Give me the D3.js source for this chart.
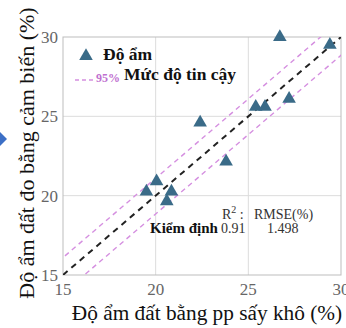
<!DOCTYPE html>
<html>
<head>
<meta charset="utf-8">
<script src="https://cdn.jsdelivr.net/npm/d3@7/dist/d3.min.js"></script>
<style>
  html, body { margin: 0; padding: 0; background: #fff; }
  svg { display: block; }
  svg text { font-family: "Liberation Serif", "DejaVu Serif", serif; }
</style>
</head>
<body>
<svg id="chart" width="346" height="328"></svg>
<script>
// Oven-dry reference moisture (%) vs. sensor reading (%)
const dryMethod = [26.7, 29.4, 27.2, 25.4, 25.9, 22.4, 23.8, 20.05, 19.5, 20.85, 20.6];
const sensorReading = [30.0, 29.5, 26.1, 25.6, 25.6, 24.6, 22.15, 20.9, 20.25, 20.25, 19.65];
const xTicks = [15, 20, 25, 30];
const yTicks = [15, 20, 25, 30];
const bandLimits = [1.1, -1.15];       // 95% confidence band offsets
const statHeaders = ["R", "RMSE(%)"];
const statValues = ["0.91", "1.498"];

const svg = d3.select("#chart");

const x = d3.scaleLinear().domain([15, 30]).range([63, 341]);
const y = d3.scaleLinear().domain([15, 30]).range([275, 37]);

// grid
svg.append("g").selectAll("line")
  .data(xTicks.slice(1, -1)).join("line")
  .attr("x1", d => x(d)).attr("x2", d => x(d))
  .attr("y1", y(15)).attr("y2", y(30))
  .attr("stroke", "#dcdcdc").attr("stroke-width", 1);
svg.append("g").selectAll("line")
  .data(yTicks.slice(1, -1)).join("line")
  .attr("y1", d => y(d)).attr("y2", d => y(d))
  .attr("x1", x(15)).attr("x2", x(30))
  .attr("stroke", "#dcdcdc").attr("stroke-width", 1);

// frame
svg.append("rect")
  .attr("x", x(15)).attr("y", y(30))
  .attr("width", x(30) - x(15)).attr("height", y(15) - y(30))
  .attr("fill", "none").attr("stroke", "#bdbdbd").attr("stroke-width", 1);

// clip for lines
svg.append("clipPath").attr("id", "plotClip").append("rect")
  .attr("x", x(15)).attr("y", y(30))
  .attr("width", x(30) - x(15)).attr("height", y(15) - y(30));

const lineGen = d3.line().x(d => x(d[0])).y(d => y(d[1]));
const lines = svg.append("g").attr("clip-path", "url(#plotClip)");
bandLimits.forEach(off => {
  lines.append("path")
    .attr("d", lineGen([[14, 14 + off], [31, 31 + off]]))
    .attr("fill", "none").attr("stroke", "#d58fe0")
    .attr("stroke-width", 1.4).attr("stroke-dasharray", "5,4");
});
lines.append("path")
  .attr("d", lineGen([[15, 15], [30, 30]]))
  .attr("fill", "none").attr("stroke", "#222")
  .attr("stroke-width", 2).attr("stroke-dasharray", "6,5");

// points
const tri = d3.symbol().type(d3.symbolTriangle).size(80);
svg.append("g").selectAll("path")
  .data(dryMethod.map((d, i) => [d, sensorReading[i]]))
  .join("path")
  .attr("d", tri)
  .attr("transform", d => `translate(${x(d[0])},${y(d[1])})`)
  .attr("fill", "#3a6b88");

// tick labels
svg.append("g").selectAll("text")
  .data(xTicks).join("text")
  .attr("x", d => x(d)).attr("y", 295)
  .attr("text-anchor", "middle")
  .attr("font-size", 17).attr("fill", "#666")
  .text(d => d);
svg.append("g").selectAll("text")
  .data(yTicks).join("text")
  .attr("x", 58).attr("y", d => y(d) + 6)
  .attr("text-anchor", "end")
  .attr("font-size", 17).attr("fill", "#666")
  .text(d => d);

// axis titles
svg.append("text")
  .attr("x", 207).attr("y", 320)
  .attr("text-anchor", "middle")
  .attr("font-size", 21.3).attr("fill", "#111")
  .text("Độ ẩm đất bằng pp sấy khô (%)");
svg.append("text")
  .attr("transform", "translate(34,153) rotate(-90)")
  .attr("text-anchor", "middle")
  .attr("font-size", 22).attr("fill", "#111")
  .text("Độ ẩm đất đo bằng cảm biến (%)");

// legend
svg.append("path").attr("d", tri)
  .attr("transform", "translate(86,56)").attr("fill", "#3a6b88");
svg.append("text").attr("x", 103).attr("y", 60)
  .attr("font-size", 17.5).attr("font-weight", "bold")
  .attr("fill", "#111").text("Độ ẩm");
svg.append("line").attr("x1", 75).attr("x2", 96).attr("y1", 80).attr("y2", 80)
  .attr("stroke", "#d58fe0").attr("stroke-width", 1.4).attr("stroke-dasharray", "4,3");
svg.append("text").attr("x", 96).attr("y", 82)
  .attr("font-size", 12).attr("font-weight", "bold")
  .attr("fill", "#c070d0").text("95%");
svg.append("text").attr("x", 124).attr("y", 80)
  .attr("font-size", 17.5).attr("font-weight", "bold")
  .attr("fill", "#111").text("Mức độ tin cậy");

// statistics annotation
const stat = svg.append("g").attr("fill", "#333");
const r2 = stat.append("text").attr("x", 222).attr("y", 219).attr("font-size", 14);
r2.append("tspan").text(statHeaders[0]);
r2.append("tspan").attr("dy", -6).attr("font-size", 10).text("2");
r2.append("tspan").attr("dy", 6).text(" :");
stat.append("text").attr("x", 254).attr("y", 219).attr("font-size", 14).text(statHeaders[1]);
stat.append("text").attr("x", 150).attr("y", 233).attr("font-size", 15)
  .attr("font-weight", "bold").attr("fill", "#111").text("Kiểm định");
stat.append("text").attr("x", 221).attr("y", 233).attr("font-size", 14).text(statValues[0]);
stat.append("text").attr("x", 267).attr("y", 233).attr("font-size", 14).text(statValues[1]);

// bullet marker at the left edge
svg.append("path").attr("d", "M0,132 L7,139 L0,146 Z").attr("fill", "#3c6fc6");
</script>
</body>
</html>
